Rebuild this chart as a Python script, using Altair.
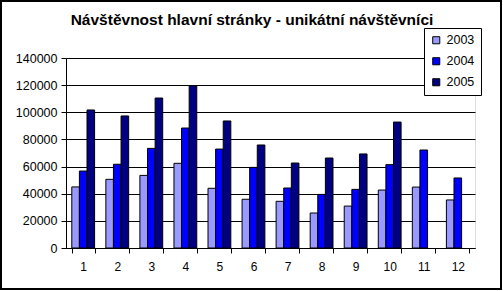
import altair as alt
import pandas as pd

title_text = "Návštěvnost hlavní stránky - unikátní návštěvníci"
months = [str(i) for i in range(1, 13)]
years = ["2003", "2004", "2005"]
v2003 = [45000, 50600, 53500, 62400, 44000, 35900, 34400, 25800, 30900, 42700, 44900, 35400]
v2004 = [56700, 61700, 73400, 88400, 72900, 59400, 44200, 39500, 43200, 61400, 72200, 51600]
v2005 = [101700, 97300, 110500, 119600, 93600, 75900, 62600, 66300, 69300, 92800, None, None]
colors = ["#9999FF", "#0000FF", "#000080"]

rows = []
for y, vals in zip(years, [v2003, v2004, v2005]):
    for m, v in zip(months, vals):
        if v is not None:
            rows.append({"month": m, "year": y, "value": v})
df = pd.DataFrame(rows)

W, H = 409, 190
FONT = "Liberation Sans"

bars = alt.Chart(df).mark_bar(stroke="black", strokeWidth=1).encode(
    x=alt.X("month:N", sort=months, title=None,
            scale=alt.Scale(paddingInner=0.33, paddingOuter=0.17),
            axis=alt.Axis(labelAngle=0, tickBand="extent", domainColor="black",
                          tickColor="black", tickSize=5, labelPadding=8,
                          labelFont=FONT, labelFontSize=12, labelColor="black")),
    xOffset=alt.XOffset("year:N", sort=years),
    y=alt.Y("value:Q", title=None,
            scale=alt.Scale(domain=[0, 140000], nice=False),
            axis=alt.Axis(values=list(range(0, 140001, 20000)), grid=True, format="d",
                          gridColor="black", gridWidth=1, domainColor="black",
                          tickColor="black", tickSize=5, labelPadding=4,
                          labelFont=FONT, labelFontSize=12.5, labelColor="black")),
    color=alt.Color("year:N", sort=years,
                    scale=alt.Scale(domain=years, range=colors),
                    legend=alt.Legend(title=None, orient="none", legendX=358, legendY=-30,
                                      symbolType="square", symbolSize=50,
                                      symbolStrokeColor="black", symbolStrokeWidth=1,
                                      labelFont=FONT, labelFontSize=12.5, labelColor="black",
                                      fillColor="white", strokeColor="black",
                                      padding=6, rowPadding=8, symbolOffset=0)),
)

title = alt.Chart(pd.DataFrame({"t": [title_text]})).mark_text(
    font=FONT, fontSize=15.5, fontWeight="bold", color="black",
    align="center", baseline="alphabetic"
).encode(x=alt.value(186), y=alt.value(-33), text="t:N")

border = alt.Chart(pd.DataFrame({"a": [0]})).mark_rect(
    fill=None, stroke="black", strokeWidth=2
).encode(
    x=alt.value(-65), x2=alt.value(W + 26), y=alt.value(-57), y2=alt.value(H + 41)
)

chart = alt.layer(bars, title, border).properties(
    width=W, height=H,
    autosize=alt.AutoSizeParams(type="none"),
    padding={"left": 66, "top": 58, "right": 28, "bottom": 43},
).configure_view(
    fill="#C0C0C0", stroke="#808080", strokeWidth=1
).configure(background="white")

chart.save("out.html", embed_options={"renderer": "svg", "actions": False})
